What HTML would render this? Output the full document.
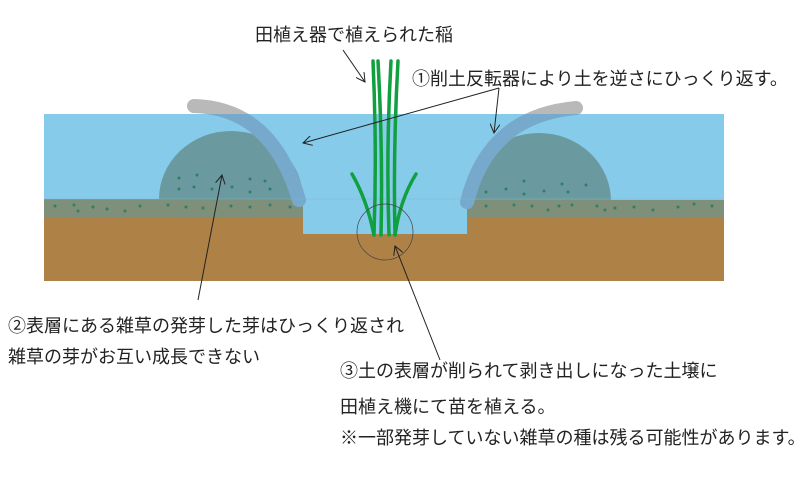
<!DOCTYPE html>
<html><head><meta charset="utf-8"><style>
body{margin:0;background:#fff;width:800px;height:480px;overflow:hidden}
svg{display:block}
text{font-family:"Liberation Sans","Noto Sans CJK JP",sans-serif;font-size:18px;fill:#222}
</style></head><body>
<svg width="800" height="480" viewBox="0 0 800 480">
<defs>
<marker id="a" markerWidth="10" markerHeight="10" refX="9" refY="5" orient="auto" markerUnits="userSpaceOnUse">
<path d="M0,0 L9,5 L0,10" fill="none" stroke="#222" stroke-width="1"/></marker>
<clipPath id="w"><rect x="44" y="114" width="680" height="200"/></clipPath>
</defs>
<rect x="44" y="114" width="680" height="120" fill="#87CBEB"/>
<ellipse cx="231" cy="199" rx="72" ry="68" fill="#6A9AA0"/>
<ellipse cx="539" cy="201" rx="72" ry="68" fill="#6A9AA0"/>
<rect x="150" y="199" width="170" height="30" fill="#87CBEB"/>
<rect x="450" y="201" width="180" height="30" fill="#87CBEB"/>
<rect x="44" y="199" width="259" height="19" fill="#7E8F7A"/>
<rect x="467" y="200" width="257" height="18" fill="#7E8F7A"/>
<path d="M44 218 H303 V234 H467 V218 H724 V281 H44 Z" fill="#AE8147"/>
<g fill="#2E7F6A">
<circle cx="55" cy="206" r="1.5"/><circle cx="74" cy="205" r="1.5"/><circle cx="78" cy="211" r="1.5"/><circle cx="93" cy="207" r="1.5"/><circle cx="107" cy="209" r="1.5"/><circle cx="125" cy="211" r="1.5"/><circle cx="140" cy="206" r="1.5"/><circle cx="168" cy="205" r="1.5"/><circle cx="186" cy="207" r="1.5"/><circle cx="203" cy="208" r="1.5"/><circle cx="231" cy="206" r="1.5"/><circle cx="250" cy="207" r="1.5"/><circle cx="270" cy="205" r="1.5"/><circle cx="290" cy="207" r="1.5"/>
<circle cx="179" cy="178" r="1.5"/><circle cx="197" cy="175" r="1.5"/><circle cx="179" cy="189" r="1.5"/><circle cx="194" cy="187" r="1.5"/><circle cx="212" cy="189" r="1.5"/><circle cx="232" cy="187" r="1.5"/><circle cx="250" cy="179" r="1.5"/><circle cx="265" cy="181" r="1.5"/><circle cx="250" cy="192" r="1.5"/><circle cx="270" cy="189" r="1.5"/><circle cx="288" cy="182" r="1.5"/>
<circle cx="486" cy="206" r="1.5"/><circle cx="514" cy="205" r="1.5"/><circle cx="532" cy="206" r="1.5"/><circle cx="548" cy="210" r="1.5"/><circle cx="559" cy="206" r="1.5"/><circle cx="572" cy="205" r="1.5"/><circle cx="597" cy="206" r="1.5"/><circle cx="605" cy="210" r="1.5"/><circle cx="615" cy="208" r="1.5"/><circle cx="634" cy="207" r="1.5"/><circle cx="653" cy="210" r="1.5"/><circle cx="678" cy="207" r="1.5"/><circle cx="694" cy="204" r="1.5"/><circle cx="712" cy="206" r="1.5"/>
<circle cx="486" cy="192" r="1.5"/><circle cx="506" cy="189" r="1.5"/><circle cx="524" cy="181" r="1.5"/><circle cx="524" cy="194" r="1.5"/><circle cx="544" cy="191" r="1.5"/><circle cx="562" cy="184" r="1.5"/><circle cx="568" cy="192" r="1.5"/><circle cx="586" cy="185" r="1.5"/>
</g>
<g fill="none" stroke-linecap="round" stroke-width="14">
<path d="M194 106 Q272 108 299 200" stroke="#B9B9B9"/>
<path d="M576 108 Q488 116 467 202" stroke="#B9B9B9"/>
<g clip-path="url(#w)" stroke="#6AA6CF" opacity="0.85">
<path d="M194 106 Q272 108 299 200"/>
<path d="M576 108 Q488 116 467 202"/>
</g>
</g>
<line x1="44" y1="199" x2="724" y2="199" stroke="#7FB5CC" stroke-width="0.6"/>
<g fill="none" stroke="#10A040" stroke-width="3.5" stroke-linecap="round">
<path d="M373 61 Q377 150 374 235"/>
<path d="M378 61 Q383 150 381 235"/>
<path d="M391 61 Q386 150 389 235"/>
<path d="M398 61 Q393 150 395 235"/>
<path d="M352 174 Q367 200 374 235"/>
<path d="M416 174 Q400 200 395 235"/>
</g>
<circle cx="385" cy="232" r="28" fill="none" stroke="#444" stroke-width="0.7"/>
<g stroke="#222" stroke-width="1" fill="none">
<line x1="343" y1="50" x2="365" y2="82" marker-end="url(#a)"/>
<path d="M499 88 L303 143" marker-end="url(#a)"/>
<path d="M499 88 L494 133" marker-end="url(#a)"/>
<line x1="198" y1="300" x2="222" y2="175" marker-end="url(#a)"/>
<line x1="440" y1="360" x2="395" y2="246" marker-end="url(#a)"/>
</g>
<text x="255" y="41">田植え器で植えられた稲</text>
<text x="412" y="85">①削土反転器により土を逆さにひっくり返す。</text>
<text x="8" y="332">②表層にある雑草の発芽した芽はひっくり返され</text>
<text x="8" y="363">雑草の芽がお互い成長できない</text>
<text x="340" y="377">③土の表層が削られて剥き出しになった土壌に</text>
<text x="340" y="413">田植え機にて苗を植える。</text>
<text x="340" y="444">※一部発芽していない雑草の種は残る可能性があります。</text>
</svg>
</body></html>
